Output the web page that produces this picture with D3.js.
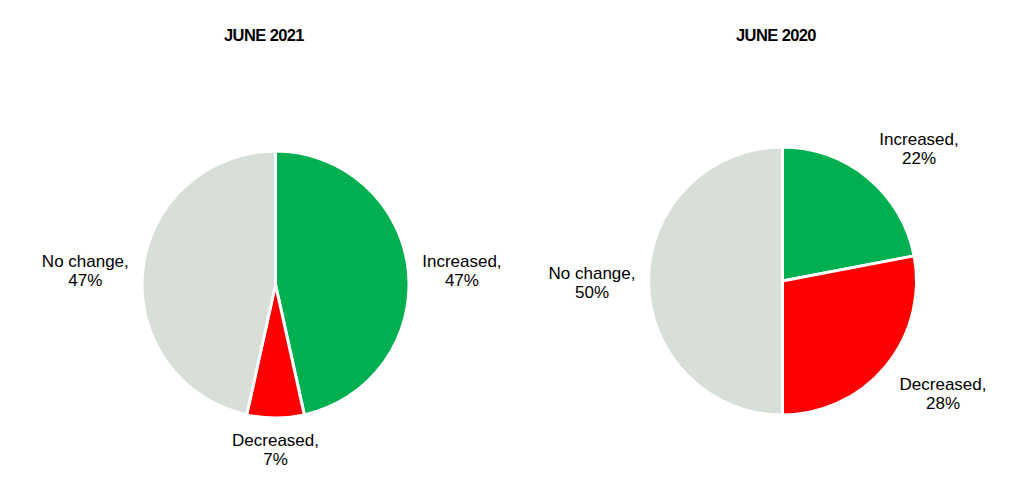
<!DOCTYPE html>
<html><head><meta charset="utf-8">
<script src="https://cdn.jsdelivr.net/npm/d3@7"></script>
<style>body{margin:0;background:#fff}svg{display:block}</style>
</head><body>
<svg id="c" width="1011" height="485"></svg>
<script>
const categories = ["Increased", "Decreased", "No change"];
const titles = ["JUNE 2021", "JUNE 2020"];
const values2021 = [47, 7, 47];
const values2020 = [22, 28, 50];
const colors = ["#00B050", "#FF0000", "#D8DFD8"];

const svg = d3.select("#c");
const font = "'Liberation Sans', Arial, sans-serif";
const pies = [
  {title: titles[0], values: values2021, cx: 275.5, cy: 284.5, r: 133.5, tx: 264},
  {title: titles[1], values: values2020, cx: 782.5, cy: 281, r: 134, tx: 776}
];
const pie = d3.pie().sort(null).value(d => d);
const color = d3.scaleOrdinal().domain(categories).range(colors);

pies.forEach(p => {
  svg.append("text").attr("x", p.tx).attr("y", 41).attr("text-anchor", "middle")
    .attr("font-family", font).attr("font-weight", "bold").attr("font-size", 16.5)
    .attr("letter-spacing", -0.6).attr("fill", "#000").text(p.title);
  const g = svg.append("g").attr("transform", `translate(${p.cx},${p.cy})`);
  const arc = d3.arc().innerRadius(0).outerRadius(p.r);
  const arcs = pie(p.values);
  g.selectAll("path").data(arcs).join("path")
    .attr("d", arc).attr("fill", (d, i) => color(categories[i]))
    .attr("stroke", "#fff").attr("stroke-width", 3).attr("stroke-linejoin", "round");
  arcs.forEach((d, i) => {
    const a = (d.startAngle + d.endAngle) / 2;
    const s = Math.sin(a), c = Math.cos(a);
    const rr = p.r + 13;
    const t = g.append("text").attr("font-family", font).attr("font-size", 17)
      .attr("fill", "#000").attr("text-anchor", "middle");
    t.append("tspan").attr("x", 0).attr("dy", 0).text(categories[i] + ",");
    t.append("tspan").attr("x", 0).attr("dy", 19).text(d.data + "%");
    const bb = t.node().getBBox();
    const w = bb.width, h = bb.height;
    const sx = Math.max(-1, Math.min(1, 2 * s));
    const sy = -Math.sign(c) * Math.min(1, Math.max(0, (Math.abs(c) - 0.15) * 2.5));
    const diag = Math.abs(s * c) * 10;
    const cxl = (rr + diag) * s + sx * w / 2;
    const cyl = -rr * c + sy * h / 2 + (Math.abs(c) < 0.3 ? 2 : 0);
    const bcx = bb.x + w / 2, bcy = bb.y + h / 2;
    t.attr("transform", `translate(${cxl - bcx},${cyl - bcy})`);
  });
});
</script>
</body></html>
